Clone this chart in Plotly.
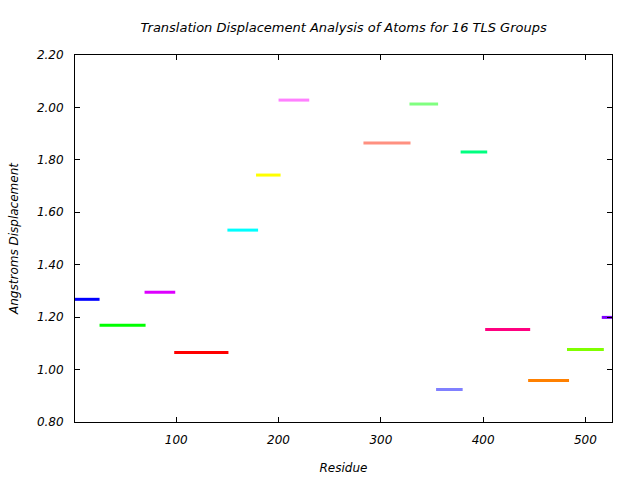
import plotly.graph_objects as go

starts = [1, 25, 69, 98, 150, 178, 200, 283, 328, 354, 378, 402, 444, 482, 516]
ends = [25, 70, 99, 151, 180, 202, 230, 329, 356, 380, 404, 446, 484, 518, 526]
values = [1.268, 1.169, 1.295, 1.065, 1.532, 1.742, 2.028, 1.864, 2.013, 0.924,
          1.830, 1.153, 0.958, 1.077, 1.199]
colors = ["#0000ff", "#00ff00", "#dd00ff", "#ff0000", "#00ffff", "#ffff00",
          "#ff80ff", "#ff9080", "#80ff80", "#8080ff", "#00ff80", "#ff0080",
          "#ff8000", "#80ff00", "#8000ff"]
y_ticks = [0.8, 1.0, 1.2, 1.4, 1.6, 1.8, 2.0, 2.2]
x_ticks = [100, 200, 300, 400, 500]

font_family = "DejaVu Sans"

fig = go.Figure()
for s, e, v, c in zip(starts, ends, values, colors):
    fig.add_trace(go.Scatter(x=[s, e], y=[v, v], mode="lines",
                             line=dict(color=c, width=3), showlegend=False,
                             hoverinfo="skip"))

fig.update_layout(
    width=640, height=480,
    margin=dict(l=75, r=28, t=55, b=58),
    paper_bgcolor="white", plot_bgcolor="white",
    title=dict(text="Translation Displacement Analysis of Atoms for 16 TLS Groups",
               x=0.537, xanchor="center", y=0.942, yanchor="middle",
               font=dict(family=font_family, size=13, color="black", style="italic")),
    font=dict(family=font_family, size=12, color="black", style="italic"),
)
fig.update_xaxes(
    range=[1, 526], tickvals=x_ticks, ticktext=[str(t) for t in x_ticks],
    showgrid=False, zeroline=False, showline=True, linecolor="black", linewidth=1,
    mirror="ticks", ticks="inside", ticklen=5, tickcolor="black",
    ticklabelstandoff=7, automargin=False,
    title=dict(text="Residue", standoff=17,
               font=dict(family=font_family, size=12, style="italic")),
    tickfont=dict(family=font_family, size=12, style="italic"),
)
fig.update_yaxes(
    range=[0.8, 2.2], tickvals=y_ticks, ticktext=[f"{t:.2f}" for t in y_ticks],
    showgrid=False, zeroline=False, showline=True, linecolor="black", linewidth=1,
    mirror="ticks", ticks="inside", ticklen=5, tickcolor="black",
    ticklabelstandoff=8, automargin=False,
    title=dict(text="Angstroms Displacement", standoff=15,
               font=dict(family=font_family, size=12, style="italic")),
    tickfont=dict(family=font_family, size=12, style="italic"),
)
fig.write_html("out.html")
